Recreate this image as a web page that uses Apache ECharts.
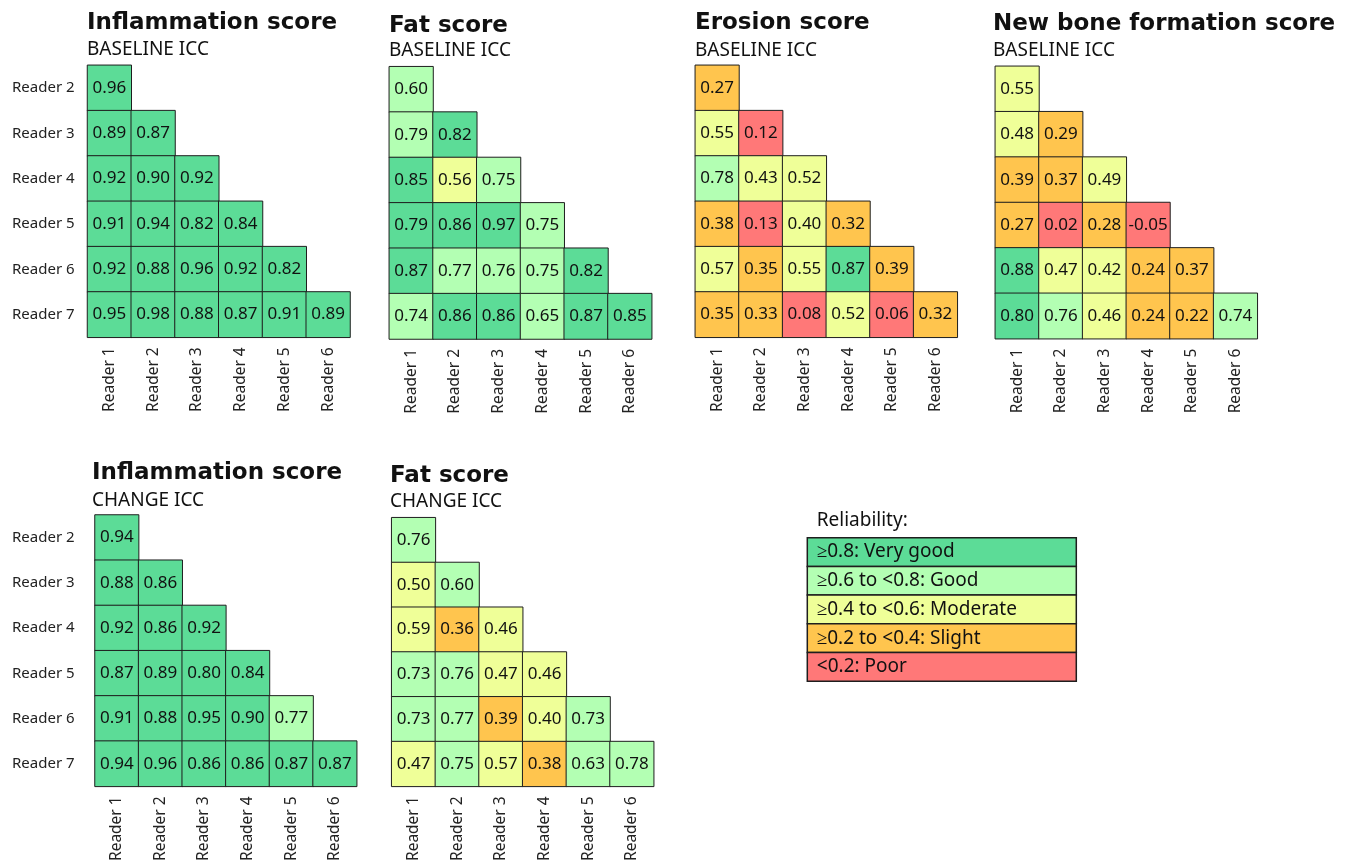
<!DOCTYPE html>
<html>
<head>
<meta charset="utf-8">
<script src="https://cdn.jsdelivr.net/npm/echarts@6/dist/echarts.min.js"></script>
<style>
html,body{margin:0;padding:0;background:#fff;}
#chart{width:1352px;height:864px;}
</style>
</head>
<body>
<div id="chart"></div>
<script>
// ---- Data ----
const rowNames = ['Reader 2','Reader 3','Reader 4','Reader 5','Reader 6','Reader 7'];
const colNames = ['Reader 1','Reader 2','Reader 3','Reader 4','Reader 5','Reader 6'];

const panelTitles = ['Inflammation score','Fat score','Erosion score','New bone formation score','Inflammation score','Fat score'];
const panelSubtitles = ['BASELINE ICC','BASELINE ICC','BASELINE ICC','BASELINE ICC','CHANGE ICC','CHANGE ICC'];

const inflammationBaseline = [
  [0.96],
  [0.89,0.87],
  [0.92,0.90,0.92],
  [0.91,0.94,0.82,0.84],
  [0.92,0.88,0.96,0.92,0.82],
  [0.95,0.98,0.88,0.87,0.91,0.89]
];
const fatBaseline = [
  [0.60],
  [0.79,0.82],
  [0.85,0.56,0.75],
  [0.79,0.86,0.97,0.75],
  [0.87,0.77,0.76,0.75,0.82],
  [0.74,0.86,0.86,0.65,0.87,0.85]
];
const erosionBaseline = [
  [0.27],
  [0.55,0.12],
  [0.78,0.43,0.52],
  [0.38,0.13,0.40,0.32],
  [0.57,0.35,0.55,0.87,0.39],
  [0.35,0.33,0.08,0.52,0.06,0.32]
];
const newBoneBaseline = [
  [0.55],
  [0.48,0.29],
  [0.39,0.37,0.49],
  [0.27,0.02,0.28,-0.05],
  [0.88,0.47,0.42,0.24,0.37],
  [0.80,0.76,0.46,0.24,0.22,0.74]
];
const inflammationChange = [
  [0.94],
  [0.88,0.86],
  [0.92,0.86,0.92],
  [0.87,0.89,0.80,0.84],
  [0.91,0.88,0.95,0.90,0.77],
  [0.94,0.96,0.86,0.86,0.87,0.87]
];
const fatChange = [
  [0.76],
  [0.50,0.60],
  [0.59,0.36,0.46],
  [0.73,0.76,0.47,0.46],
  [0.73,0.77,0.39,0.40,0.73],
  [0.47,0.75,0.57,0.38,0.63,0.78]
];
const panelData = [inflammationBaseline, fatBaseline, erosionBaseline, newBoneBaseline, inflammationChange, fatChange];

// cells whose reliability class in the source differs from the displayed (rounded) value
const levelOverrides = [{panel:1,row:3,col:0,level:0}];

const legendTitle = 'Reliability:';
const legendLabels = ['\u22650.8: Very good','\u22650.6 to <0.8: Good','\u22650.4 to <0.6: Moderate','\u22650.2 to <0.4: Slight','<0.2: Poor'];
const levelColors = ['#5cdc97','#b3ffb3','#efff98','#ffc54e','#ff7878'];

// ---- Layout ----
const grids = [
  {left:87.5, top:65.3, width:262.5, height:272},
  {left:389.3, top:66.7, width:262.4, height:272.3},
  {left:695.3, top:65.3, width:262, height:272},
  {left:995.3, top:66.3, width:262, height:272.4},
  {left:95, top:515, width:261.7, height:272.3},
  {left:391.7, top:517.7, width:262, height:272.3}
];
const titlePos = [
  {x:87, t:12, s:40},{x:389, t:15, s:41},{x:695, t:12, s:41},{x:993, t:13, s:41},
  {x:92, t:462, s:491},{x:390, t:465, s:492}
];

function levelOf(v){ return v>=0.8?0 : v>=0.6?1 : v>=0.4?2 : v>=0.2?3 : 4; }

const titles = [];
const xAxes = [], yAxes = [], series = [];
panelData.forEach((mat, p) => {
  titles.push({text: panelTitles[p], left: titlePos[p].x, top: titlePos[p].t, padding:0,
    textStyle:{fontFamily:'DejaVu Sans', fontWeight:'bold', fontSize:23, color:'#111'}});
  titles.push({text: panelSubtitles[p], left: titlePos[p].x, top: titlePos[p].s, padding:0,
    textStyle:{fontFamily:'Noto Sans', fontWeight:'normal', fontSize:19, color:'#111'}});
  xAxes.push({type:'category', gridIndex:p, data:colNames, position:'bottom',
    axisLine:{show:false}, axisTick:{show:false}, splitLine:{show:false},
    axisLabel:{rotate:90, margin:10, fontFamily:'Noto Sans', fontSize:15.5, color:'#222'}});
  const showY = (p===0 || p===4);
  yAxes.push({type:'category', gridIndex:p, data:rowNames, inverse:true,
    axisLine:{show:false}, axisTick:{show:false}, splitLine:{show:false},
    axisLabel:{show:showY, align:'left', margin: grids[p].left - 12, fontFamily:'Noto Sans', fontSize:15, color:'#222'}});
  const data = [];
  mat.forEach((row, r) => {
    row.forEach((v, c) => {
      let lv = levelOf(v);
      levelOverrides.forEach(o => { if (o.panel===p && o.row===r && o.col===c) lv = o.level; });
      data.push([c, r, v, lv]);
    });
  });
  series.push({type:'heatmap', xAxisIndex:p, yAxisIndex:p, data:data,
    label:{show:true, formatter: prm => prm.value[2].toFixed(2), fontFamily:'Noto Sans', fontSize:17, color:'#111'},
    itemStyle:{borderColor:'#1e1e1e', borderWidth:1},
    emphasis:{disabled:true}});
});

// legend drawn as graphic boxes
const legendX = 807.3, legendY = 537.7, legendW = 269, legendRowH = 28.7;
const graphics = [{type:'text', left:816.7, top:511, style:{text:legendTitle, fontFamily:'Noto Sans', fontSize:19, fill:'#111'}}];
legendLabels.forEach((lab, i) => {
  graphics.push({type:'rect', shape:{x:legendX, y:legendY + i*legendRowH, width:legendW, height:legendRowH},
    style:{fill:levelColors[i], stroke:'#1e1e1e', lineWidth:1.5}});
  graphics.push({type:'text', x:legendX + 9.5, y:legendY + i*legendRowH + legendRowH/2,
    style:{text:lab, fontFamily:'Noto Sans', fontSize:19, fill:'#111', textVerticalAlign:'middle', verticalAlign:'middle'}});
});

const chart = echarts.init(document.getElementById('chart'));
chart.setOption({
  animation:false,
  backgroundColor:'#fff',
  title: titles,
  grid: grids,
  xAxis: xAxes,
  yAxis: yAxes,
  visualMap: {type:'piecewise', show:false, dimension:3, seriesIndex:[0,1,2,3,4,5],
    pieces: levelColors.map((col,i)=>({value:i, color:col}))},
  series: series,
  graphic: graphics
});
</script>
</body>
</html>
